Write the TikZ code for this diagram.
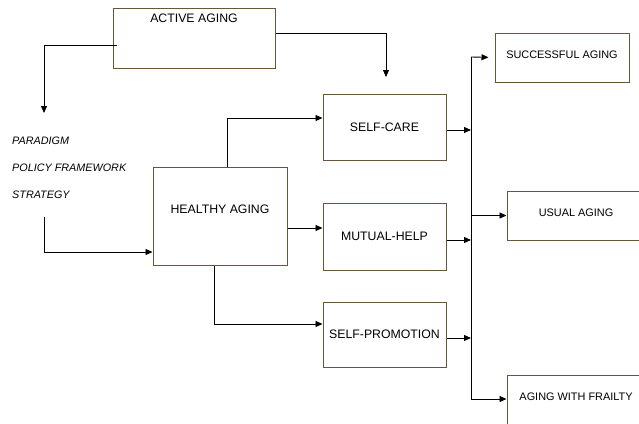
\documentclass[tikz,border=0pt]{standalone}
\usepackage{fontspec}
\setmainfont{Liberation Sans}
\usetikzlibrary{arrows.meta,calc}
\definecolor{boxbrown}{RGB}{105,84,60}
\newcommand{\boxfont}{\fontsize{12.3}{14}\selectfont}
\newcommand{\outfont}{\fontsize{10.9}{13}\selectfont}
\newcommand{\notefont}{\fontsize{10.8}{13}\selectfont\itshape}

\begin{document}
\begin{tikzpicture}[x=1pt,y=-1pt,
	stage/.style 2 args={draw=boxbrown, line width=1pt, minimum width=#1, minimum height=#2, inner sep=0pt, font=\boxfont},
	note/.style={anchor=west, inner sep=0pt, font=\notefont},
	link/.style={draw=black, line width=0.9pt, -{Triangle[length=7pt,width=6pt]}}]
	\clip (0,0) rectangle (639,423);

	\node[stage={162pt}{60pt}, label={[anchor=north, inner sep=0pt, yshift=-6pt, font=\boxfont]north:ACTIVE AGING}] (active) at (194,38) {};
	\node[stage={134pt}{98pt}, label={[yshift=7pt, font=\boxfont]center:HEALTHY AGING}] (healthy) at (220,216) {};
	\node[stage={123pt}{66pt}] (selfcare) at (384.5,127) {SELF-CARE};
	\node[stage={123pt}{67pt}] (mutual) at (384.5,236.5) {MUTUAL-HELP};
	\node[stage={123pt}{65pt}] (selfpromo) at (384.5,334.5) {SELF-PROMOTION};
	\node[stage={134pt}{49pt}, label={[yshift=3pt, font=\outfont]center:SUCCESSFUL AGING}] (successful) at (562,57.5) {};
	\node[stage={138pt}{49pt}, label={[yshift=3pt, font=\outfont]center:USUAL AGING}] (usual) at (576,215.5) {};
	\node[stage={138pt}{55pt}, label={[yshift=6pt, font=\outfont]center:AGING WITH FRAILTY}] (frailty) at (576,402.5) {};

	\node[note] (paradigm) at (12,141) {PARADIGM};
	\node[note] (policy) at (12,168) {POLICY FRAMEWORK};
	\node[note] (strategy) at (12,195) {STRATEGY};

	\coordinate (paradigmtop) at (44,113);
	\coordinate (strategyfoot) at (44,217);
	\coordinate (selfcaretop) at (386,77);
	\coordinate (bustop) at (471,57);
	\coordinate (busbot) at (471,399);

	\draw[link] ($(active.west)+(4,7)$) -| (paradigmtop);
	\draw[link] ($(active.east)+(0,-5)$) -| (selfcaretop);
	\draw[link] (strategyfoot) |- ([yshift=-36pt]healthy.west);
	\draw[link] ([xshift=7pt]healthy.north) |- ([yshift=9pt]selfcare.west);
	\draw[link] ([yshift=-12pt]healthy.east) -- ([yshift=-12pt]healthy.east -| mutual.west);
	\draw[link] ([xshift=-6pt]healthy.south) |- ([yshift=10.5pt]selfpromo.west);

	\draw[line width=0.9pt] (bustop) -- (busbot);
	\draw[link] ([yshift=-3pt]selfcare.east) -- ([yshift=-3pt]selfcare.east -| bustop);
	\draw[link] ([yshift=-3.5pt]mutual.east) -- ([yshift=-3.5pt]mutual.east -| bustop);
	\draw[link] ([yshift=-3.5pt]selfpromo.east) -- ([yshift=-3.5pt]selfpromo.east -| bustop);
	\draw[link, shorten >=6pt] (bustop) -- (successful.west);
	\draw[link] (usual.west -| bustop) -- (usual.west);
	\draw[link] (busbot) -- (busbot -| frailty.west);
\end{tikzpicture}
\end{document}
